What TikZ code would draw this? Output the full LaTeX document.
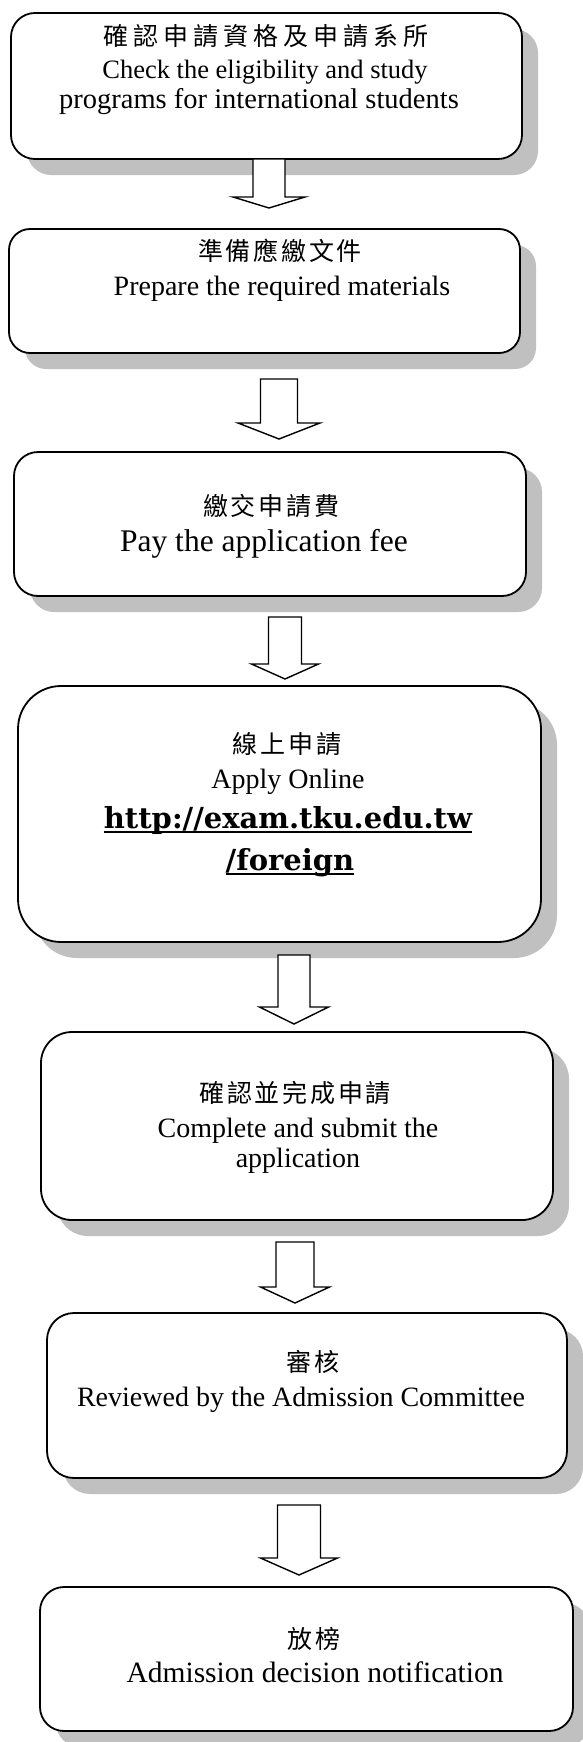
\documentclass[tikz,border=0pt]{standalone}
\usepackage{fontspec}
\setmainfont{Liberation Serif}
\newfontfamily\cjk[LetterSpace=11]{Noto Sans CJK TC}
\newfontfamily\cjkwide[LetterSpace=20]{Noto Sans CJK TC}
\newfontfamily\urlf{DejaVu Serif}
\usetikzlibrary{shadows}
\definecolor{shadowc}{RGB}{192,192,192}
\tikzset{
  stepbox/.style={draw, line width=1.8pt, fill=white, inner sep=0pt,
    general shadow={fill=shadowc, draw=none, shadow xshift=16pt, shadow yshift=-16pt}},
  cn/.style={font=\cjk\fontsize{25}{25}\selectfont, inner sep=0pt, anchor=center},
  cnw/.style={font=\cjkwide\fontsize{25}{25}\selectfont, inner sep=0pt, anchor=center},
  en/.style={font=\fontsize{28}{30}\selectfont, inner sep=0pt, anchor=base},
  ul/.style={font=\urlf\bfseries\fontsize{29}{30}\selectfont, inner sep=0pt, anchor=base},
  ulline/.style={line width=1.8pt},
  arr/.style={draw, line width=1.4pt, fill=white, line join=miter},
}
% cx, ytop, yshaft, ytip, shafthalf, headhalf
\newcommand{\blockarr}[6]{%
  \draw[arr] ({#1-#5},#2) -- ({#1+#5},#2) -- ({#1+#5},#3) -- ({#1+#6},#3)
    -- (#1,#4) -- ({#1-#6},#3) -- ({#1-#5},#3) -- cycle;}
\begin{document}
\begin{tikzpicture}[x=1pt,y=-1pt]
\useasboundingbox (0,0) rectangle (583,1742);
\fill[white] (0,0) rectangle (583,1742);

% boxes
\node[stepbox, rounded corners=24pt, minimum width=511pt, minimum height=146pt] (b1) at (266.5,86) {};
\node[stepbox, rounded corners=21pt, minimum width=511pt, minimum height=124pt] (b2) at (264.5,291) {};
\node[stepbox, rounded corners=24pt, minimum width=512pt, minimum height=144pt] (b3) at (270,524) {};
\node[stepbox, rounded corners=43pt, minimum width=523pt, minimum height=256pt] (b4) at (279.5,814) {};
\node[stepbox, rounded corners=31pt, minimum width=512pt, minimum height=188pt] (b5) at (297,1126) {};
\node[stepbox, rounded corners=27pt, minimum width=520pt, minimum height=165pt] (b6) at (307,1395.5) {};
\node[stepbox, rounded corners=24pt, minimum width=533pt, minimum height=144pt] (b7) at (306.5,1659) {};

% arrows
\blockarr{269}{159}{197}{208}{16}{36}
\blockarr{279}{379}{423}{439}{18.5}{41}
\blockarr{285}{617}{664}{679}{16.5}{33.5}
\blockarr{294}{955}{1007}{1024}{16}{34.5}
\blockarr{295}{1242}{1287}{1303}{19}{34.5}
\blockarr{299}{1505}{1558}{1575}{21.5}{38.5}

% texts
\node[cnw] (c1) at (266,36) {確認申請資格及申請系所};
\node[en, font=\fontsize{26.5}{30}\selectfont] (e1a) at (265,79) {Check the eligibility and study};
\node[en, font=\fontsize{28.5}{30}\selectfont] (e1b) at (259,109) {programs for international students};

\node[cn] (c2) at (280,251) {準備應繳文件};
\node[en] (e2) at (282,295) {Prepare the required materials};

\node[cn] (c3) at (271,506) {繳交申請費};
\node[en, font=\fontsize{31.5}{34}\selectfont] (e3) at (264,551) {Pay the application fee};

\node[cn] (c4) at (287,744) {線上申請};
\node[en] (e4) at (288,788) {Apply Online};
\node[ul] (u1) at (288,828) {http://exam.tku.edu.tw};
\node[ul] (u2) at (290,870) {/foreign};
\draw[ulline] ([yshift=-4pt]u1.base west) -- ([yshift=-4pt]u1.base east);
\draw[ulline] ([yshift=-4pt]u2.base west) -- ([yshift=-4pt]u2.base east);

\node[cn] (c5) at (295,1093) {確認並完成申請};
\node[en] (e5a) at (298,1137) {Complete and submit the};
\node[en] (e5b) at (298,1167) {application};

\node[cn] (c6) at (313,1362) {審核};
\node[en] (e6) at (301,1406) {Reviewed by the Admission Committee};

\node[cn] (c7) at (314,1639) {放榜};
\node[en, font=\fontsize{29.5}{30}\selectfont] (e7) at (315,1682) {Admission decision notification};
\end{tikzpicture}
\end{document}
